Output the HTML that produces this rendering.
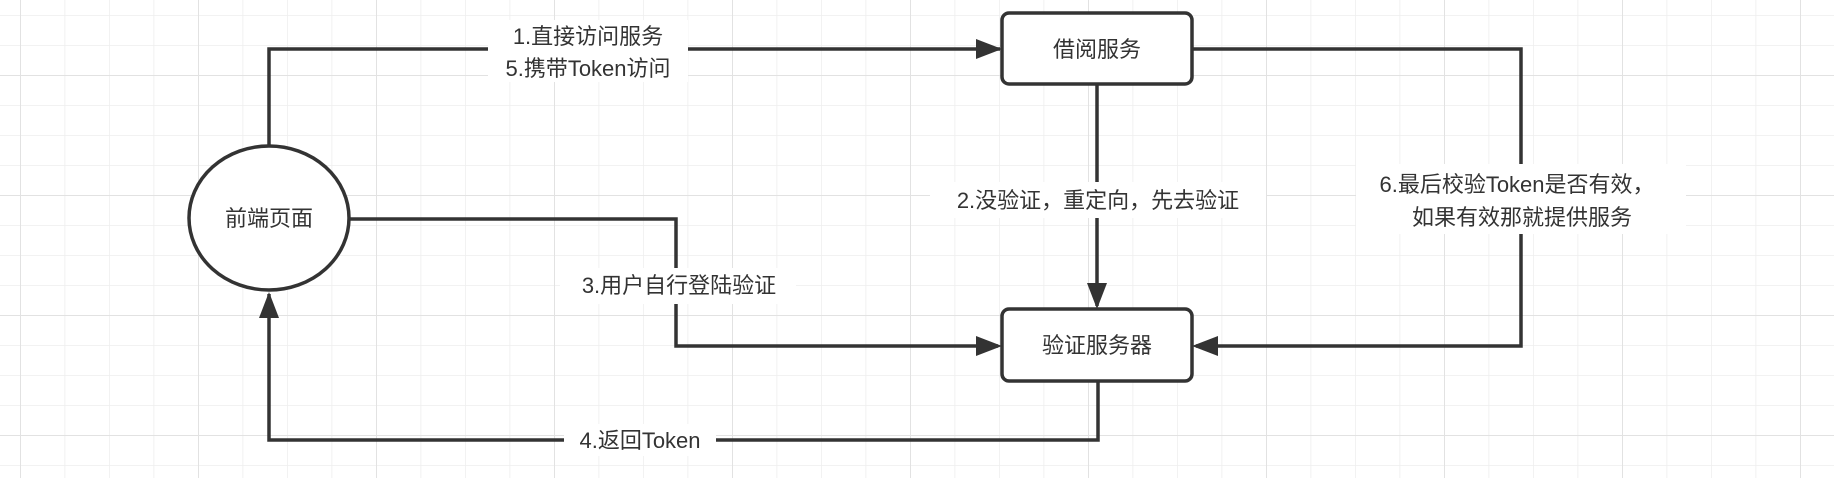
<!DOCTYPE html>
<html><head><meta charset="utf-8"><style>
html,body{margin:0;padding:0;background:#fff}
svg{display:block}
text{font-family:"Liberation Sans","Noto Sans CJK SC",sans-serif;fill:#333;font-size:22px}
</style></head><body>
<svg width="1834" height="478" viewBox="0 0 1834 478" xmlns="http://www.w3.org/2000/svg">
<defs>
<pattern id="g" width="44.5" height="30" patternUnits="userSpaceOnUse" x="20" y="15">
<path d="M0 0H44.5M0 0V30" stroke="#eeeeee" stroke-width="1.5" fill="none"/>
</pattern>
<pattern id="G" width="178" height="120" patternUnits="userSpaceOnUse" x="20" y="75">
<path d="M0 0H178M0 0V120" stroke="#e2e2e2" stroke-width="2" fill="none"/>
</pattern>
<marker id="a" markerWidth="10" markerHeight="10" refX="9" refY="5" orient="auto" markerUnits="userSpaceOnUse" viewBox="0 0 10 10">
<path d="M0 0L10 5L0 10z" fill="#333"/>
</marker>
</defs>
<rect width="1834" height="478" fill="url(#g)"/>
<rect width="1834" height="478" fill="url(#G)"/>
<g stroke="#333" stroke-width="3.5" fill="none">
<path d="M269 146V49H1000" marker-end="url(#a)" style="marker-end:none"/>
<path d="M1192 49H1521V346H1196"/>
<path d="M1097 84V306"/>
<path d="M349 219H676V346H998"/>
<path d="M1098 381V440H269V294"/>
</g>
<g fill="#333">
<path d="M1002 49l-26 -10v20z"/>
<path d="M1002 346l-26 -10v20z"/>
<path d="M1192 346l26 -10v20z"/>
<path d="M1097 309l-10 -26h20z"/>
<path d="M269 292l-10 26h20z"/>
</g>
<ellipse cx="269" cy="218" rx="80" ry="72" fill="#fff" stroke="#333" stroke-width="3.5"/>
<rect x="1002" y="13" width="190" height="71" rx="7" fill="#fff" stroke="#333" stroke-width="3.5"/>
<rect x="1002" y="309" width="190" height="72" rx="7" fill="#fff" stroke="#333" stroke-width="3.5"/>
<g text-anchor="middle">
<text x="269" y="226">前端页面</text>
<text x="1097" y="57">借阅服务</text>
<text x="1097" y="353">验证服务器</text>
<rect x="488" y="20" width="200" height="62" fill="#fff"/>
<text x="588" y="44">1.直接访问服务</text>
<text x="588" y="76">5.携带Token访问</text>
<rect x="930" y="182" width="336" height="36" fill="#fff"/>
<text x="1098" y="208">2.没验证，重定向，先去验证</text>
<rect x="560" y="268" width="236" height="36" fill="#fff"/>
<text x="679" y="293">3.用户自行登陆验证</text>
<rect x="564" y="424" width="152" height="32" fill="#fff"/>
<text x="640" y="448">4.返回Token</text>
<rect x="1356" y="164" width="330" height="70" fill="#fff"/>
<text x="1517" y="192">6.最后校验Token是否有效，</text>
<text x="1522" y="225">如果有效那就提供服务</text>
</g>
</svg>
</body></html>
